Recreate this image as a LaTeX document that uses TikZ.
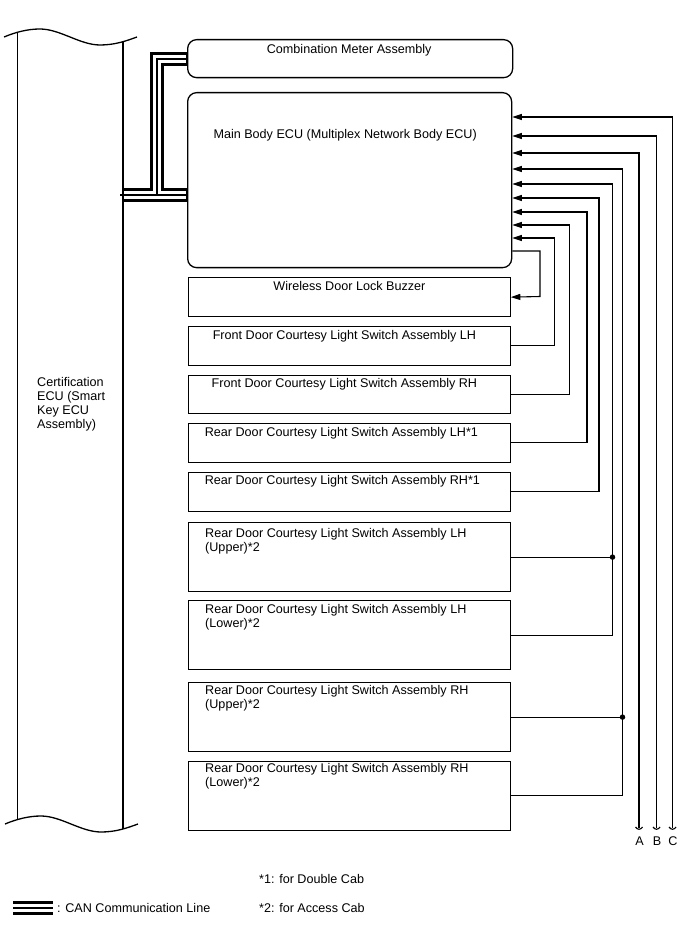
\documentclass[tikz,border=0pt]{standalone}
\usepackage{fontspec}
\setmainfont{Liberation Sans}
\usetikzlibrary{arrows.meta,calc}
\newcommand{\twolines}[2]{\vtop{\hbox{#1}\hbox{#2}}}
\begin{document}
\begin{tikzpicture}[x=1pt,y=-1pt,
  font=\fontsize{12.6}{14}\selectfont,
  box/.style={draw,line width=1.3pt,inner sep=0pt,anchor=north west},
  rbox/.style={box,rounded corners=9pt},
  wire/.style={line width=1.1pt},
  arr/.style={wire,-{Triangle[length=9.5pt,width=6pt]}},
  lbl/.style={inner sep=0pt,anchor=base},
  lbll/.style={inner sep=0pt,anchor=base west},
  dot/.style={circle,fill,inner sep=0pt,minimum size=5.5pt},
  canblack/.style={line width=14pt,line join=miter},
  canwhite/.style={line width=8pt,white,line join=miter,shorten >=0.7pt},
  canthin/.style={line width=1.4pt,line join=miter,shorten >=0.7pt}]
\useasboundingbox (0,0) rectangle (688,949);

% boxes
\node[rbox,minimum width=325pt,minimum height=38pt] (cm) at (187,39) {};
\node[rbox,minimum width=324pt,minimum height=175pt] (mb) at (187,92) {};
\node[box,minimum width=321.5pt,minimum height=39pt] (buz) at (188,277) {};
\node[box,minimum width=321.5pt,minimum height=38.5pt] (flh) at (188,326) {};
\node[box,minimum width=321.5pt,minimum height=38.5pt] (frh) at (188,374.5) {};
\node[box,minimum width=321.5pt,minimum height=38.5pt] (rla) at (188,423) {};
\node[box,minimum width=321.5pt,minimum height=39pt] (rra) at (188,471.5) {};
\node[box,minimum width=321.5pt,minimum height=69pt] (rlu) at (188,522) {};
\node[box,minimum width=321.5pt,minimum height=69pt] (rll) at (188,600) {};
\node[box,minimum width=321.5pt,minimum height=69pt] (rru) at (188,682) {};
\node[box,minimum width=321.5pt,minimum height=69pt] (rrl) at (188,760.5) {};

% box texts
\node[lbl] (tcm) at ($(cm.north)+(-1,14.5)$) {Combination Meter Assembly};
\node[lbl] (tmb) at ($(mb.north)+(-4.5,46.5)$) {Main Body ECU (Multiplex Network Body ECU)};
\node[lbl] (tbuz) at ($(buz.north)+(0,13.5)$) {Wireless Door Lock Buzzer};
\node[lbl] (tflh) at ($(flh.north)+(-5,13.5)$) {Front Door Courtesy Light Switch Assembly LH};
\node[lbl] (tfrh) at ($(frh.north)+(-5,13)$) {Front Door Courtesy Light Switch Assembly RH};
\node[lbl] (trla) at ($(rla.north)+(-8,13.5)$) {Rear Door Courtesy Light Switch Assembly LH*1};
\node[lbl] (trra) at ($(rra.north)+(-7,13)$) {Rear Door Courtesy Light Switch Assembly RH*1};
\node[lbll] (trlu) at ($(rlu.north west)+(17,15.5)$) {\twolines{Rear Door Courtesy Light Switch Assembly LH}{(Upper)*2}};
\node[lbll] (trll) at ($(rll.north west)+(17,13.5)$) {\twolines{Rear Door Courtesy Light Switch Assembly LH}{(Lower)*2}};
\node[lbll] (trru) at ($(rru.north west)+(17,12.5)$) {\twolines{Rear Door Courtesy Light Switch Assembly RH}{(Upper)*2}};
\node[lbll] (trrl) at ($(rrl.north west)+(17,11.5)$) {\twolines{Rear Door Courtesy Light Switch Assembly RH}{(Lower)*2}};

% certification ECU
\node[inner sep=0pt,anchor=north west,align=left] (cert) at (37,377)
  {Certification\\ECU (Smart\\Key ECU\\Assembly)};

% CAN bundle
\draw[canblack] (123,195) -- (mb.west|-0,195);
\draw[canblack] (157,195) -- (157,59) -- (cm.west|-0,59);
\draw[canwhite] (120,195) -- (mb.west|-0,195);
\draw[canwhite] (157,195) -- (157,59) -- (cm.west|-0,59);
\draw[canthin] (120,195) -- (mb.west|-0,195);
\draw[canthin] (157,195) -- (157,59) -- (cm.west|-0,59);

% certification ECU outline
\draw[line width=1.3pt] (4,37) .. controls (16,32) and (28,29) .. (40,29)
  .. controls (60,29) and (80,45) .. (100,45)
  .. controls (115,45) and (126,41) .. (137,37);
\draw[line width=1.3pt] (5,824) .. controls (17,819) and (29,816) .. (41,816)
  .. controls (61,816) and (81,832) .. (101,832)
  .. controls (116,832) and (127,828) .. (138,824);
\draw[line width=1.3pt] (17.5,32.5) -- (17.5,819.5);
\draw[line width=1.3pt] (123,42) -- (123,829);

% A B C terminals
\coordinate (A) at (639,828);
\coordinate (B) at (656.5,828);
\coordinate (C) at (672.5,828);
\draw[arr] (C) |- (mb.east|-0,117);
\draw[arr] (B) |- (mb.east|-0,136);
\draw[arr] (A) |- (mb.east|-0,153);
\foreach \t in {A,B,C}{
  \draw[wire] ($(\t)+(-3.5,-1)$) .. controls ($(\t)+(-1.5,2)$) and ($(\t)+(1.5,2)$) .. ($(\t)+(3.5,-1)$);
}
\node[lbl] (la) at ($(A)+(0.5,17)$) {A};
\node[lbl] (lb) at ($(B)+(0.5,17)$) {B};
\node[lbl] (lc) at ($(C)+(0.5,17)$) {C};

% switch connections
\draw[arr] (rrl.east) -| (622.5,169) -- (mb.east|-0,169);
\draw[wire] (rru.east) -- (rru.east-|622.5,0) node[dot] (j2) {};
\draw[arr] (rll.east) -| (612.5,184) -- (mb.east|-0,184);
\draw[wire] (rlu.east) -- (rlu.east-|612.5,0) node[dot] (j1) {};
\draw[arr] (rra.east) -| (599,198) -- (mb.east|-0,198);
\draw[arr] (rla.east) -| (587,212) -- (mb.east|-0,212);
\draw[arr] (frh.east) -| (569.5,225) -- (mb.east|-0,225);
\draw[arr] (flh.east) -| (554.5,238) -- (mb.east|-0,238);
\draw[arr] (mb.east|-0,251) -| (540,296.5) -- (buz.east);

% legend
\draw[line width=14pt] (13,908) -- (53,908);
\draw[line width=8pt,white] (12,908) -- (54,908);
\draw[line width=1.4pt] (13,908) -- (53,908);
\node[lbll] (lcan) at (57,912) {: CAN Communication Line};
\node[lbll] (n1) at (259,883) {*1: for Double Cab};
\node[lbll] (n2) at (259,912) {*2: for Access Cab};
\end{tikzpicture}
\end{document}
